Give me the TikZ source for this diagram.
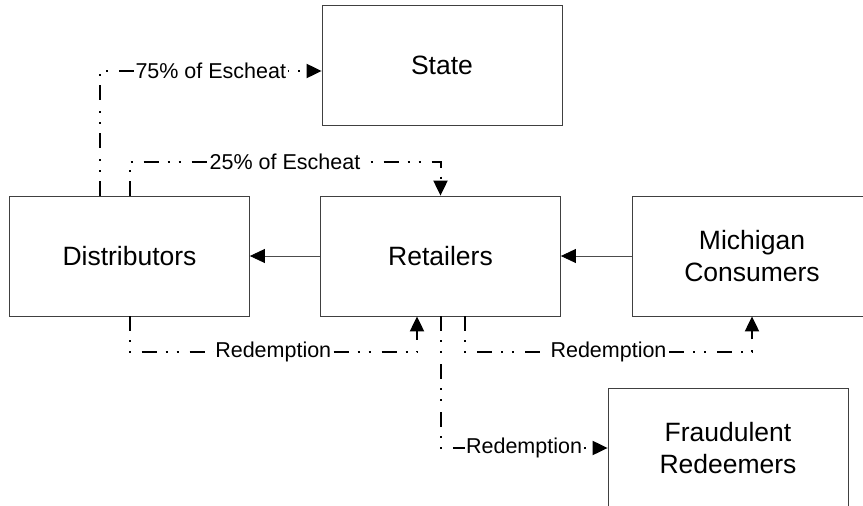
\documentclass[tikz,border=0pt]{standalone}
\usepackage{fontspec}
\setmainfont{Liberation Sans}
\usetikzlibrary{arrows.meta}

\begin{document}
\begin{tikzpicture}[x=1pt, y=-1pt,
	box/.style={draw=black!75, line width=0.8pt, rectangle, minimum width=240pt, minimum height=120pt, inner sep=0pt, align=center, font=\fontsize{26.5}{32}\selectfont},
	flow/.style={->, line width=2pt, dash pattern=on 15pt off 9pt on 2pt off 9pt on 2pt off 11pt},
	lbl/.style={fill=white, inner sep=1.5pt, font=\fontsize{21.5}{24}\selectfont},
	>={Triangle[length=15pt, width=14pt, color=black]}]
	\useasboundingbox (0,0) rectangle (863,506);
	\clip (0,0) rectangle (863,506);
	\node[box] (S)at(442, 65) {State};
	\node[box] (D)at(129.5, 256) {Distributors};
	\node[box] (R)at(440.5, 256) {Retailers};
	\node[box] (M)at(752, 256) {Michigan\\Consumers};
	\node[box] (F)at(728, 448) {Fraudulent\\Redeemers};
	\draw[->, draw=black!70, line width=0.8pt] (R) -- (D);
	\draw[->, draw=black!70, line width=0.8pt] (M) -- (R);
	\draw[flow] ([xshift=-29.5pt]D.north) |- node[lbl, pos=0.75] {75\% of Escheat} ([yshift=-6pt]S.west);
	\draw[flow] (D.north) -- ++(0,-34) -| node[lbl, pos=0.25] {25\% of Escheat} (R.north);
	\draw[flow] (D.south) -- ++(0,36) -| node[lbl, pos=0.25] {Redemption} ([xshift=-23.5pt]R.south);
	\draw[flow] ([xshift=24.5pt]R.south) -- ++(0,36) -| node[lbl, pos=0.25] {Redemption} (M.south);
	\draw[flow] (R.south) |- node[lbl, pos=0.75] {Redemption} (F.west);
\end{tikzpicture}
\end{document}
